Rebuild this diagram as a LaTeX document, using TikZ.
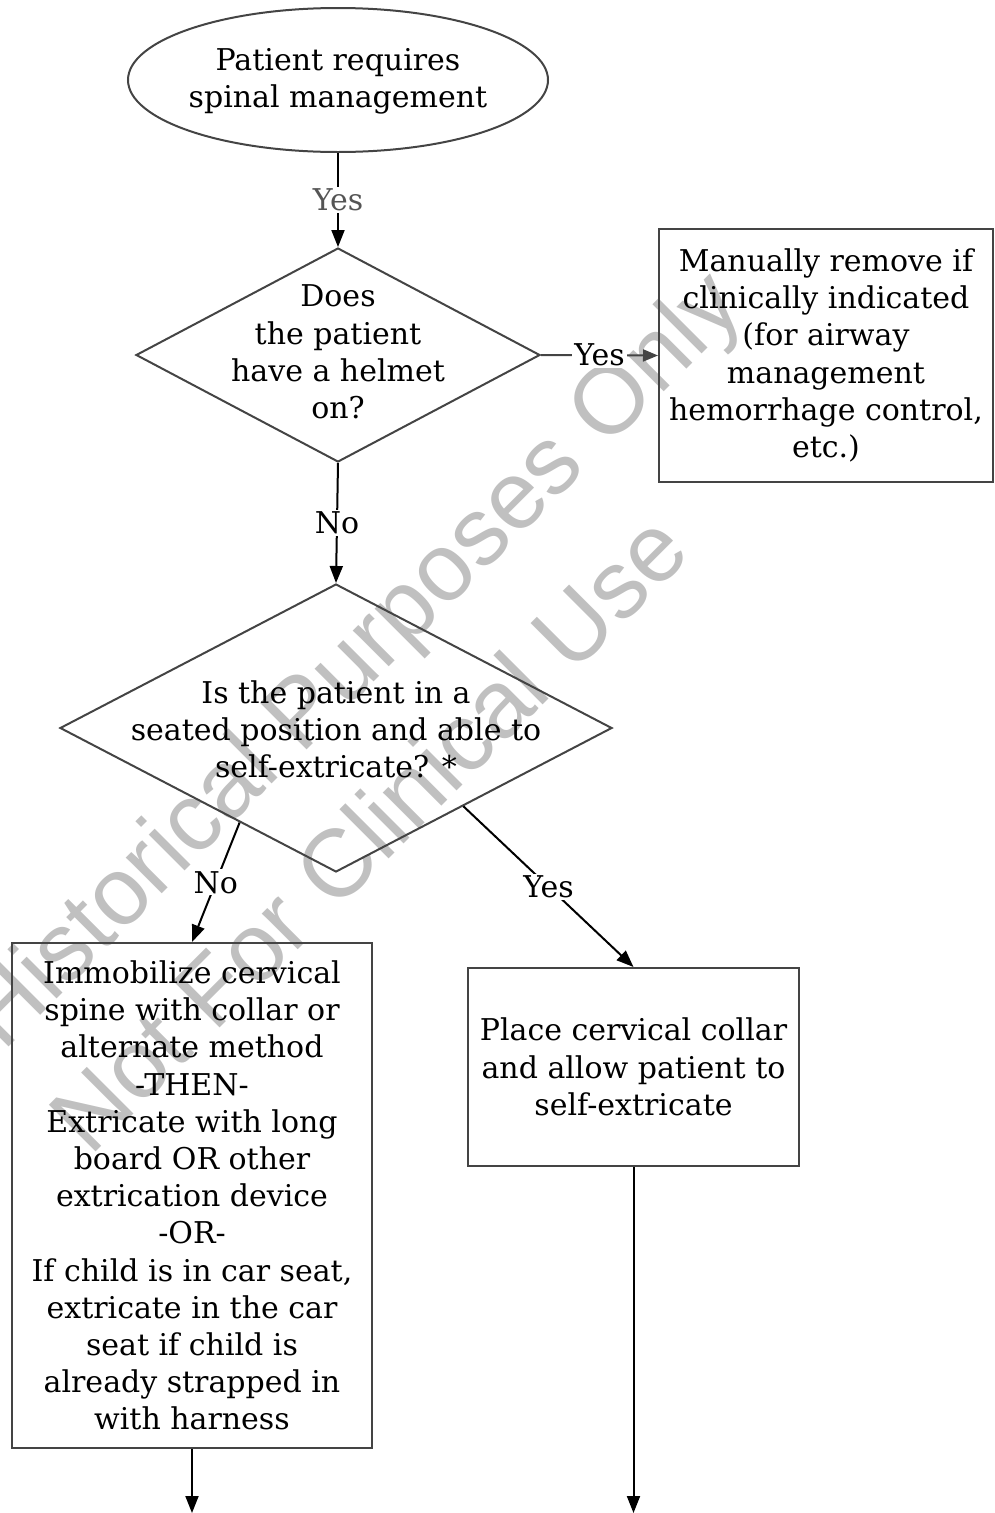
\documentclass[tikz,border=0pt]{standalone}
\usepackage{fontspec}
\setmainfont{DejaVu Serif}
\newfontfamily\wmfont{Liberation Sans}
\usepackage{xcolor}
\usetikzlibrary{arrows.meta}
\usetikzlibrary{shapes.geometric}
\usetikzlibrary{calc}
\definecolor{shapegray}{RGB}{68,68,68}
\definecolor{wmgray}{RGB}{192,192,192}
\definecolor{labelgray}{RGB}{85,85,85}

\tikzset{
  startnode/.style={ellipse, draw=shapegray, line width=2pt, minimum width=420pt, minimum height=144pt, inner sep=0pt},
  decision/.style={diamond, draw=shapegray, line width=2pt, inner sep=0pt},
  process/.style={rectangle, draw=shapegray, line width=2pt, align=center, inner sep=0pt},
  flow/.style={line width=2pt, -{Triangle[length=17pt,width=13pt]}},
  flowlabel/.style={fill=white, inner sep=2pt},
  watermark/.style={font=\wmfont\fontsize{96}{110}\selectfont, text=wmgray, rotate=45, anchor=base west, inner sep=0pt},
}

\begin{document}
\begin{tikzpicture}[x=1pt, y=-1pt, font=\fontsize{30}{37.2}\selectfont]
	\useasboundingbox (0,0) rectangle (995,1513);
	\clip (0,0) rectangle (995,1513);

	% watermark
	\node[watermark] (wmone) at (3,1053) {Historical Purposes Only};
	\node[watermark] (wmtwo) at (90,1158) {Not For Clinical Use};

	% shapes
	\node[startnode] (start) at (338,80) {};
	\node[align=center] (starttext) at (338,81.5) {Patient requires\\spinal management};

	\node[decision, minimum width=404pt, minimum height=214pt] (helmet) at (338,355) {};
	\node[align=center] (helmettext) at (338,352) {Does\\the patient\\have a helmet\\on?};

	\node[process, minimum width=334pt, minimum height=253pt] (remove) at (826,355.5) {Manually remove if\\clinically indicated\\(for airway\\management\\hemorrhage control,\\etc.)};

	\node[decision, minimum width=552pt, minimum height=288pt] (seated) at (336,728) {};
	\node[align=center] (seatedtext) at (336,729.5) {Is the patient in a\\seated position and able to\\self-extricate? *};

	\node[process, minimum width=360pt, minimum height=505pt] (immob) at (192,1195.5) {Immobilize cervical\\spine with collar or\\alternate method\\-THEN-\\Extricate with long\\board OR other\\extrication device\\-OR-\\If child is in car seat,\\extricate in the car\\seat if child is\\already strapped in\\with harness};

	\node[process, minimum width=331pt, minimum height=198pt] (collar) at (633.5,1067) {Place cervical collar\\and allow patient to\\self-extricate};

	% connectors
	\draw[flow] (start.south) -- node[flowlabel, text=labelgray] {Yes} (helmet.north);
	\draw[flow, draw=shapegray, -{Triangle[length=15pt,width=12pt]}] (helmet.east) -- node[flowlabel] {Yes} (remove.west);
	\draw[flow] (helmet.south) -- node[flowlabel] {No} (seated.north);

	\coordinate (noexit) at ($(seated.west)!0.652!(seated.south)$);
	\coordinate (yesexit) at ($(seated.east)!0.54!(seated.south)$);
	\draw[flow] (noexit) -- node[flowlabel] {No} (immob.north);
	\draw[flow] (yesexit) -- node[flowlabel] {Yes} (collar.north);

	% open ends
	\coordinate (immobend) at (192,1513);
	\coordinate (collarend) at (633.5,1513);
	\draw[flow] (immob.south) -- (immobend);
	\draw[flow] (collar.south) -- (collarend);
\end{tikzpicture}
\end{document}
